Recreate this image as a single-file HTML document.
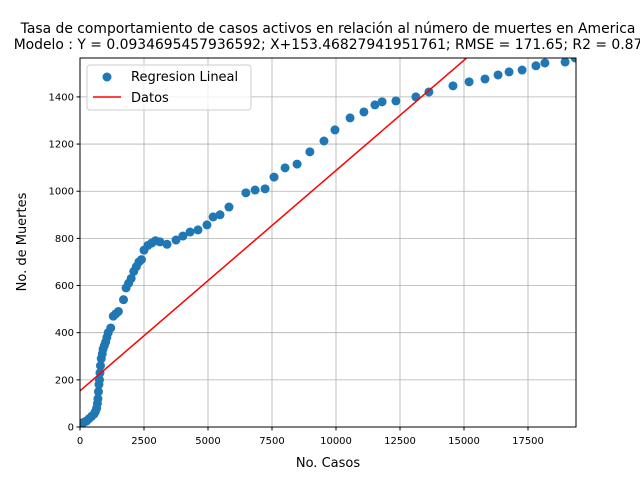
<!DOCTYPE html>
<html><head><meta charset="utf-8"><style>
html,body{margin:0;padding:0;background:#fff;}
svg{display:block;font-family:"DejaVu Sans","Liberation Sans",sans-serif;}
</style></head><body>
<svg id="chart" width="640" height="480" viewBox="0 0 640 480" xmlns="http://www.w3.org/2000/svg">
<rect width="640" height="480" fill="#fff"/>
<text x="328" y="33" font-size="13.9" text-anchor="middle">Tasa de comportamiento de casos activos en relación al número de muertes en America</text>
<text x="328" y="49" font-size="13.9" text-anchor="middle">Modelo : Y = 0.0934695457936592; X+153.46827941951761; RMSE = 171.65; R2 = 0.87</text>
<g id="grid"></g>
<g id="plot"></g>
<rect x="80" y="58" width="496" height="369" fill="none" stroke="#000" stroke-width="1"/>
<g id="ticks"></g>
<text x="328" y="467" font-size="13" text-anchor="middle">No. Casos</text>
<text transform="translate(26,242) rotate(-90)" font-size="13" text-anchor="middle">No. de Muertes</text>
<g>
<rect x="87" y="65" width="164" height="45" rx="3" fill="#fff" fill-opacity="0.8" stroke="#ccc"/>
<circle cx="107" cy="77" r="4.5" fill="#1f77b4"/>
<text x="131" y="81" font-size="13">Regresion Lineal</text>
<line x1="93" y1="97" x2="121" y2="97" stroke="red" stroke-width="1.5"/>
<text x="131" y="102" font-size="13">Datos</text>
</g>
</svg>
<script>
const casos = [50,150,250,350,450,550,600,650,680,700,720,740,760,780,800,830,870,900,950,1000,1050,1100,1200,1300,1400,1500,1700,1800,1900,2000,2100,2200,2300,2400,2500,2650,2800,2950,3125,3400,3750,4020,4300,4610,4960,5200,5470,5820,6480,6840,7230,7580,8010,8480,8980,9530,9960,10550,11090,11520,11800,12340,13120,13630,14570,15200,15820,16330,16760,17270,17810,18160,18950,19340];
const muertes = [15,20,25,35,45,55,65,80,100,120,150,180,200,230,260,290,310,330,345,360,380,400,420,470,480,490,540,590,610,630,660,680,700,710,750,770,780,790,785,775,793,810,827,836,857,891,900,933,993,1005,1010,1060,1099,1115,1167,1213,1260,1311,1336,1366,1379,1383,1400,1421,1447,1464,1476,1493,1506,1514,1532,1544,1548,1565];
const slope = 0.0934695457936592;
const intercept = 153.46827941951761;
const xTicks = [0,2500,5000,7500,10000,12500,15000,17500];
const yTicks = [0,200,400,600,800,1000,1200,1400];
const X0=80,X1=576,Y0=427,Y1=58,XMAX=19375,YMAX=1565;
const sx=v=>X0+(v/XMAX)*(X1-X0);
const sy=v=>Y0-(v/YMAX)*(Y0-Y1);
const NS="http://www.w3.org/2000/svg";
const grid=document.getElementById('grid'),ticks=document.getElementById('ticks'),plot=document.getElementById('plot');
function mk(tag,attrs,parent){const e=document.createElementNS(NS,tag);for(const k in attrs)e.setAttribute(k,attrs[k]);parent.appendChild(e);return e;}
xTicks.forEach(t=>{
  const g=mk('line',{x1:sx(t),x2:sx(t),y1:Y1,y2:Y0,stroke:'#b0b0b0','stroke-width':0.8},grid);
  
  
  mk('line',{x1:sx(t),x2:sx(t),y1:Y0,y2:Y0+3.5,stroke:'#000'},ticks);
  const tx=mk('text',{x:sx(t),y:Y0+17,'font-size':10,'text-anchor':'middle'},ticks);
  tx.textContent=t;
  
  
});
yTicks.forEach(t=>{
  const g=mk('line',{x1:X0,x2:X1,y1:sy(t),y2:sy(t),stroke:'#b0b0b0','stroke-width':0.8},grid);
  
  
  mk('line',{x1:X0-3.5,x2:X0,y1:sy(t),y2:sy(t),stroke:'#000'},ticks);
  const tx=mk('text',{x:X0-6,y:sy(t)+3.5,'font-size':10,'text-anchor':'end'},ticks);
  tx.textContent=t;
  
  
});
const clip=mk('clipPath',{id:'pc'},plot);
mk('rect',{x:X0,y:Y1,width:X1-X0,height:Y0-Y1},clip);
const pts=mk('g',{'clip-path':'url(#pc)'},plot);
casos.forEach((c,i)=>{
  const p=mk('circle',{cx:sx(c),cy:sy(muertes[i]),r:4.5,fill:'#1f77b4'},pts);
  
  
});
const ln=mk('line',{x1:sx(0),y1:sy(intercept),x2:sx(XMAX),y2:sy(intercept+slope*XMAX),stroke:'red','stroke-width':1.5},pts);


</script>
</body></html>
